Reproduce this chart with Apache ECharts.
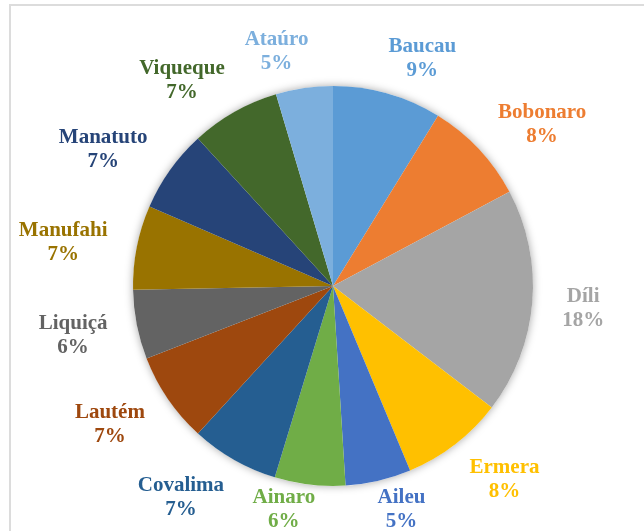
<!DOCTYPE html>
<html>
<head>
<meta charset="utf-8">
<script src="https://cdn.jsdelivr.net/npm/echarts@6/dist/echarts.min.js"></script>
<style>
  html, body { margin: 0; padding: 0; background: #ffffff; }
  #chart { position: absolute; left: 0; top: 0; width: 644px; height: 531px; }
  #frame { position: absolute; left: 9px; top: 4px; width: 640px; height: 540px;
           border-left: 2px solid #dcdcdc; border-top: 2px solid #dcdcdc; pointer-events: none; }
</style>
</head>
<body>
<div id="chart"></div>
<div id="frame"></div>
<script>
const categories = ['Baucau', 'Bobonaro', 'Díli', 'Ermera', 'Aileu', 'Ainaro', 'Covalima',
                    'Lautém', 'Liquiçá', 'Manufahi', 'Manatuto', 'Viqueque', 'Ataúro'];
const values = [8.8, 8.4, 18.2, 8.3, 5.3, 5.7, 7.1, 7.3, 5.6, 6.8, 6.7, 7.2, 4.6];
const colors = ['#5B9BD5', '#ED7D31', '#A5A5A5', '#FFC000', '#4472C4', '#70AD47', '#255E91',
                '#9E480E', '#636363', '#997300', '#264478', '#43682B', '#7CAFDD'];

const W = 644, H = 531;
const CX = 333, CY = 286, R = 200;
const LABEL_R = 240, OVERLAP = 10, LABEL_DY = 3;
const total = values.reduce((a, b) => a + b, 0);

const chart = echarts.init(document.getElementById('chart'), null, { renderer: 'canvas' });

const data = categories.map((name, i) => ({
  name: name,
  value: values[i],
  itemStyle: { color: colors[i] },
  label: { color: colors[i] }
}));

chart.setOption({
  animation: false,
  backgroundColor: '#ffffff',
  series: [
    {
      type: 'pie',
      silent: true,
      center: [CX, CY],
      radius: R,
      z: 1,
      label: { show: false },
      labelLine: { show: false },
      itemStyle: { color: '#ffffff', shadowBlur: 8, shadowColor: 'rgba(0,0,0,0.35)' },
      data: [{ value: 1, name: '' }]
    },
    {
      type: 'pie',
      center: [CX, CY],
      radius: R,
      z: 2,
      startAngle: 90,
      clockwise: true,
      avoidLabelOverlap: false,
      itemStyle: { borderWidth: 0 },
      label: {
        show: true,
        position: 'outside',
        fontFamily: 'Liberation Serif',
        fontWeight: 'bold',
        fontSize: 21,
        lineHeight: 24,
        formatter: p => p.name + '\n' + Math.round(p.percent) + '%'
      },
      labelLine: { show: false },
      labelLayout: function (p) {
        const i = p.dataIndex;
        let before = 0;
        for (let k = 0; k < i; k++) before += values[k];
        const mid = (before + values[i] / 2) / total * 2 * Math.PI;
        const ux = Math.sin(mid), uy = -Math.cos(mid);
        const w = p.labelRect.width, h = p.labelRect.height;
        let x = CX + ux * LABEL_R + Math.sign(ux) * (w / 2 - OVERLAP);
        let y = CY + uy * LABEL_R + LABEL_DY;
        y = Math.min(y, H - h / 2 + 3);
        y = Math.max(y, h / 2 + 8);
        return { x: x, y: y, align: 'center', verticalAlign: 'middle' };
      },
      data: data
    }
  ]
});
</script>
</body>
</html>
